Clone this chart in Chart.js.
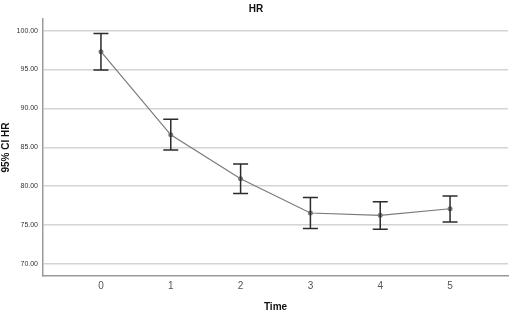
<!DOCTYPE html>
<html>
<head>
<meta charset="utf-8">
<script src="https://cdn.jsdelivr.net/npm/chart.js@4.4.1/dist/chart.umd.min.js"></script>
<style>
  html, body { margin: 0; padding: 0; background: #fff; }
  #wrap { width: 512px; height: 313px; }
</style>
</head>
<body>
<div id="wrap"><canvas id="chart-hr"></canvas></div>
<script>
// HR mean and 95% CI per time point
const timePoints = [0, 1, 2, 3, 4, 5];
const hrMean  = [97.3, 86.6, 80.95, 76.55, 76.25, 77.1];
const hrUpper = [99.65, 88.6, 82.85, 78.55, 78.0, 78.75];
const hrLower = [94.95, 84.65, 79.05, 74.55, 74.45, 75.4];
const yTicks  = [70, 75, 80, 85, 90, 95, 100];

// draws the CI bars from the scales
const errorBars = {
    id: 'errorBars',
    afterDatasetsDraw(chart) {
        const ctx = chart.ctx;
        const xs = chart.scales.x, ys = chart.scales.y;
        ctx.save();
        ctx.strokeStyle = '#2b2b2b';
        ctx.lineWidth = 1.5;
        for (let i = 0; i < timePoints.length; i++) {
            const px = xs.getPixelForValue(timePoints[i]);
            const top = ys.getPixelForValue(hrUpper[i]);
            const bot = ys.getPixelForValue(hrLower[i]);
            ctx.beginPath();
            ctx.moveTo(px, top); ctx.lineTo(px, bot);
            ctx.moveTo(px - 7.5, top); ctx.lineTo(px + 7.5, top);
            ctx.moveTo(px - 7.5, bot); ctx.lineTo(px + 7.5, bot);
            ctx.stroke();
        }
        ctx.restore();
    }
};

var ctx_hr = document.getElementById('chart-hr').getContext('2d');
var chart_hr = new Chart(ctx_hr, {
    type: 'scatter',
    data: {
        datasets: [{
            label: 'HR',
            data: timePoints.map((t, i) => ({ x: t, y: hrMean[i] })),
            showLine: true,
            borderColor: '#7a7a7a',
            backgroundColor: '#7a7a7a',
            borderWidth: 1.2,
            pointRadius: 2.5,
            pointBorderWidth: 0
        }]
    },
    plugins: [errorBars],
    options: {
        responsive: true,
        maintainAspectRatio: false,
        animation: false,
        layout: { padding: { left: 0, right: 0, top: 0, bottom: 0 } },
        plugins: {
            legend: { display: false },
            tooltip: { enabled: false },
            title: {
                display: true,
                text: 'HR',
                color: '#111',
                font: { family: 'Liberation Sans', size: 10, weight: 'bold' },
                padding: { top: 3, bottom: 4 }
            }
        },
        scales: {
            x: {
                type: 'linear',
                min: -0.83,
                max: 5.83,
                afterBuildTicks(axis) {
                    axis.ticks = timePoints.map(v => ({ value: v }));
                },
                afterFit(axis) { axis.height = 37; },
                grid: { display: false, drawTicks: false },
                border: { display: true, color: '#9a9a9a', width: 1.5 },
                ticks: {
                    color: '#555',
                    padding: 4,
                    font: { family: 'Liberation Sans', size: 10 }
                },
                title: {
                    display: true,
                    text: 'Time',
                    color: '#111',
                    padding: { top: 3, bottom: 0 },
                    font: { family: 'Liberation Sans', size: 10, weight: 'bold' }
                }
            },
            y: {
                min: 68.45,
                max: 101.5,
                afterBuildTicks(axis) {
                    axis.ticks = yTicks.map(v => ({ value: v }));
                },
                afterFit(axis) { axis.width = 43; },
                grid: { color: '#d4d4d4', lineWidth: 1.5, drawTicks: false },
                border: { display: true, color: '#9a9a9a', width: 1.5 },
                ticks: {
                    color: '#333',
                    padding: 5,
                    font: { family: 'Liberation Sans', size: 7 },
                    callback: v => v.toFixed(2)
                },
                title: {
                    display: true,
                    text: '95% CI HR',
                    color: '#111',
                    padding: { top: 0, bottom: 2 },
                    font: { family: 'Liberation Sans', size: 10, weight: 'bold' }
                }
            }
        }
    }
});
</script>
</body>
</html>
